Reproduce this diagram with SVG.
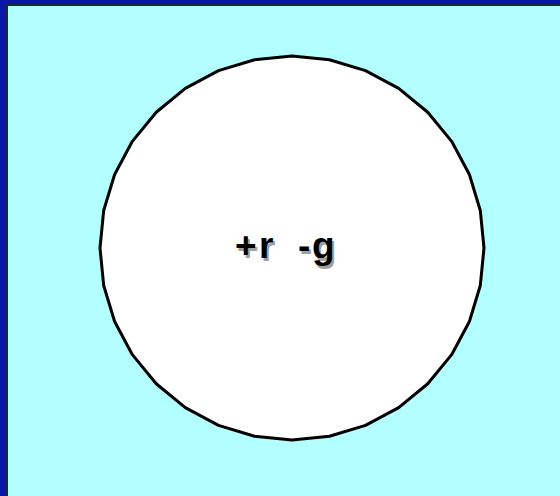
<svg xmlns="http://www.w3.org/2000/svg" width="560" height="496" viewBox="0 0 560 496">
<style>
.lbl{font-family:"Liberation Sans",Arial,sans-serif;font-size:37px;font-weight:bold}
</style>
<rect x="0" y="0" width="560" height="496" fill="#0818a8"/>
<rect x="6" y="4" width="554" height="492" fill="#1a2a30"/>
<rect x="8" y="6" width="552" height="490" fill="#b3ffff"/>
<g id="node-circle">
<polygon points="292,56 329.46,59.69 365.47,70.61 398.67,88.36 427.76,112.24 451.64,141.33 469.39,174.53 480.31,210.54 484,248 480.31,285.46 469.39,321.47 451.64,354.67 427.76,383.76 398.67,407.64 365.47,425.39 329.46,436.31 292,440 254.54,436.31 218.53,425.39 185.33,407.64 156.24,383.76 132.36,354.67 114.61,321.47 103.69,285.46 100,248 103.69,210.54 114.61,174.53 132.36,141.33 156.24,112.24 185.33,88.36 218.53,70.61 254.54,59.69" fill="#ffffff" stroke="#000000" stroke-width="3" stroke-linejoin="round"/>
<text class="lbl" x="237 261 300 314" y="261" fill="#a0a0a0">+r-g</text>
<text class="lbl" x="235 259 298 312" y="258" fill="#000000">+r-g</text>
</g>
<g id="connectors"></g>
</svg>
